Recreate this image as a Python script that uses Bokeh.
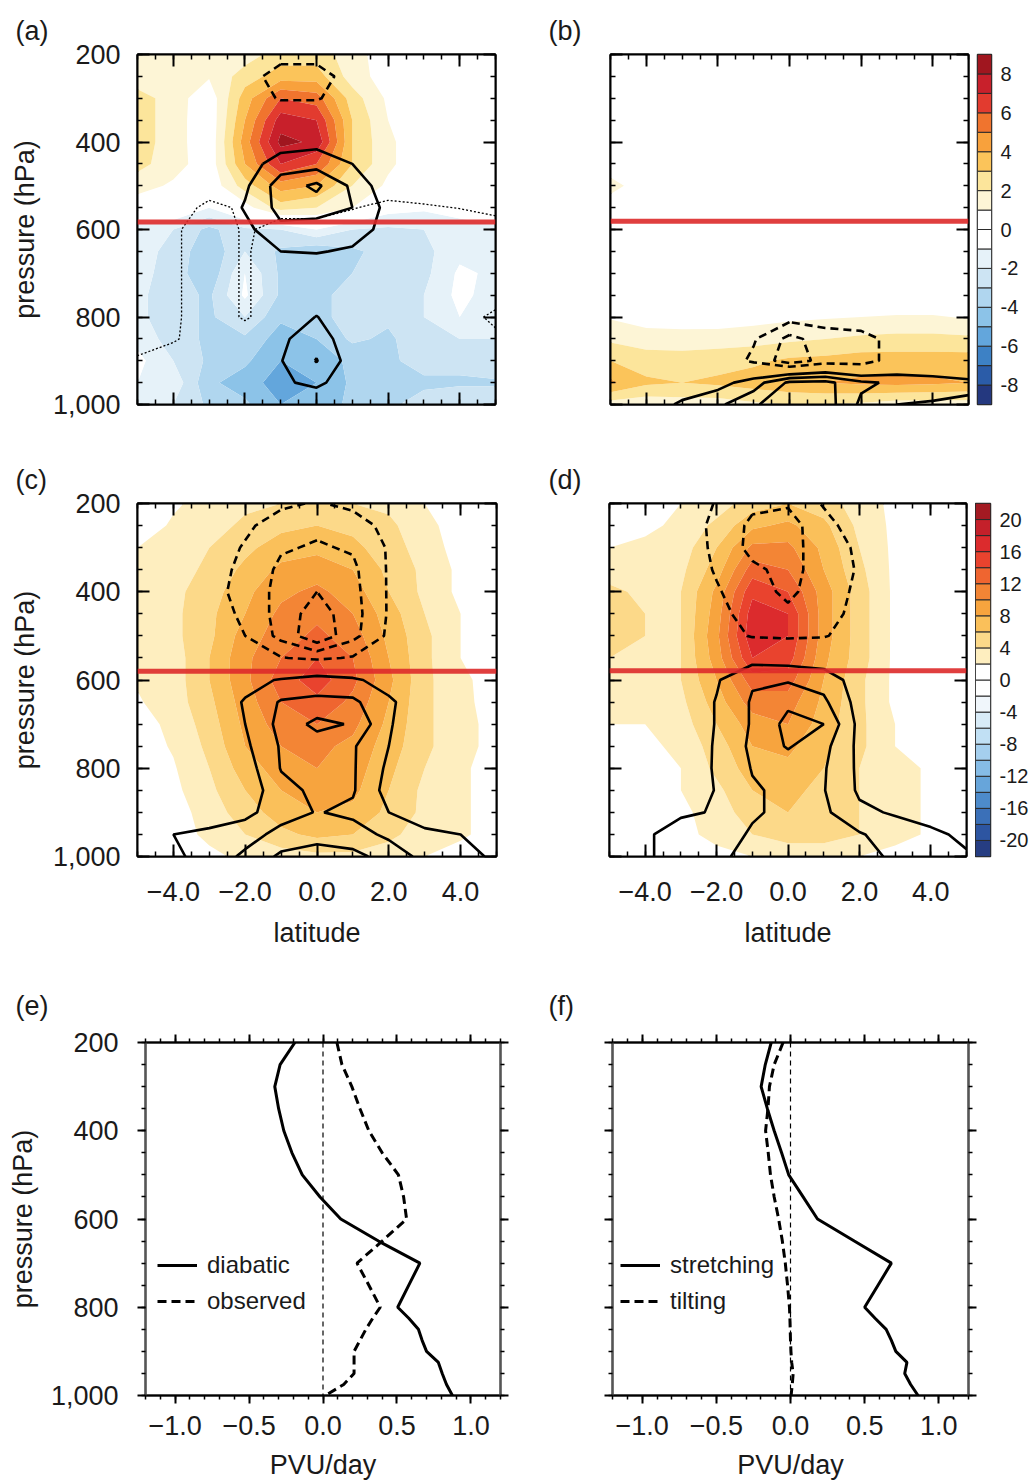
import numpy as np
from bokeh.plotting import figure
from bokeh.layouts import column, row
from bokeh.models import (Range1d, LinearAxis, SingleIntervalTicker, FixedTicker,
                          NumeralTickFormatter, CustomJSTickFormatter, Span,
                          Legend, LegendItem)
from bokeh.embed import file_html
from bokeh.resources import INLINE

FONT = "Liberation Sans"
TXT = "#1a1a1a"

# ---------------- data ----------------
latitude = [-5, -4, -3, -2, -1, 0, 1, 2, 3, 4, 5]
pressure = [200, 250, 300, 350, 400, 450, 500, 550, 600, 650, 700, 750, 800, 850, 900, 950, 1000]

# panel (a): shaded field
fill_a = [
    [1.2, 1.2, 1.2, 1.5, 2.5, 2.5, 1.5, 0.3, 0, 0, 0],
    [1.3, 1.2, 1.1, 2.5, 3.5, 3.5, 1.5, 0.5, 0, 0, 0],
    [2.5, 1.5, 0.3, 3.5, 6.0, 5.5, 2.5, 0.8, 0, 0, 0],
    [2.5, 1.5, 0.2, 4.0, 7.5, 7.0, 3.0, 1.0, 0.2, 0, 0],
    [2.5, 1.5, 0.2, 4.5, 8.3, 7.8, 3.0, 1.2, 0.3, 0, 0],
    [2.3, 1.5, 0.3, 4.0, 7.0, 6.0, 3.0, 1.2, 0.3, 0, 0],
    [1.5, 0.8, 0.2, 2.5, 4.5, 4.0, 2.0, 0.8, 0.1, 0, 0],
    [0.2, 0.3, -1.0, 0.5, 2.5, 2.0, 1.0, -0.5, -0.8, -0.5, -0.3],
    [-1.5, -2.0, -3.3, -2.2, -2.0, -1.0, -2.0, -2.2, -2.0, -1.5, -1.2],
    [-1.6, -2.3, -3.8, -2.0, -3.2, -3.8, -3.2, -2.6, -2.3, -1.3, -1.2],
    [-1.6, -2.5, -3.8, -1.0, -3.2, -4.0, -3.0, -2.6, -2.3, -0.8, -1.2],
    [-1.8, -2.5, -3.2, -0.8, -3.2, -3.3, -2.6, -2.6, -2.0, -0.7, -1.5],
    [-1.8, -2.5, -3.2, -2.0, -3.8, -3.3, -2.6, -2.8, -2.0, -1.0, -1.8],
    [-1.3, -2.5, -3.2, -3.2, -4.5, -4.0, -2.8, -3.2, -2.3, -2.0, -2.0],
    [-0.7, -2.0, -3.2, -3.8, -5.0, -4.5, -3.8, -3.2, -2.6, -2.6, -2.0],
    [-1.0, -1.3, -3.8, -4.5, -5.5, -5.0, -3.8, -3.2, -3.2, -3.2, -3.2],
    [-1.3, -2.0, -3.2, -3.8, -5.0, -4.5, -3.8, -3.2, -2.6, -2.0, -2.0],
]
# panel (a): contoured field
cont_a = [
    [0, 0, 0, -0.5, -0.6, -0.6, -0.5, 0, 0, 0, 0],
    [0, 0, 0, -0.5, -1.5, -1.5, -0.5, 0, 0, 0, 0],
    [0, 0, 0, -0.4, -1.1, -1.1, -0.4, 0, 0, 0, 0],
    [0, 0, 0, 0, 0, 0, 0, 0, 0, 0, 0],
    [0, 0, 0, 0, 0.5, 0.7, 0.3, 0, 0, 0, 0],
    [0, 0, 0, 0.5, 1.5, 1.6, 1.0, 0.2, 0, 0, 0],
    [0, 0, 0, 0.8, 2.5, 3.2, 1.8, 0.3, 0, 0, 0],
    [0, 0, 0, 1.1, 2.3, 2.5, 2.0, 0.7, 0, 0, 0],
    [0, 0, 0, 0.7, 1.8, 1.5, 1.7, 0.5, 0, 0, 0],
    [0, 0, 0, 0.2, 1.0, 1.1, 0.8, 0.1, 0, 0, 0],
    [0, 0, 0, 0, 0, 0, 0, 0, 0, 0, 0],
    [0, 0, 0, 0, 0, 0, 0, 0, 0, 0, 0],
    [0, 0, 0, 0, 0, 1.05, 0, 0, 0, 0, 0],
    [0, 0, 0, 0, 0.8, 1.6, 0.3, 0, 0, 0, 0],
    [0, 0, 0, 0, 0.95, 2.05, 0.5, 0, 0, 0, 0],
    [0, 0, 0, 0, 0.8, 1.3, 0.2, 0, 0, 0, 0],
    [0, 0, 0, 0, 0, 0, 0, 0, 0, 0, 0],
]
# panel (a): dotted zero-line field
zero_a = [
    [1, 1, 1, 1, 1, 1, 1, 1, 1, 1, 1],
    [1, 1, 1, 1, 1, 1, 1, 1, 1, 1, 1],
    [1, 1, 1, 1, 1, 1, 1, 1, 1, 1, 1],
    [1, 1, 1, 1, 1, 1, 1, 1, 1, 1, 1],
    [1, 1, 1, 1, 1, 1, 1, 1, 1, 1, 1],
    [1, 1, 1, 1, 1, 1, 1, 1, 1, 1, 1],
    [1, 1, 1, 1, 1, 1, 1, 1, 1, 1, 1],
    [1, 1, -0.5, 0.3, 0.5, 0.5, 0.1, -0.5, -0.2, 0.05, 0.3],
    [1, 0.3, -1, 0.2, -0.5, -0.5, -1, -1, -1, -1, -0.5],
    [1, 0.3, -1, 0.2, -1, -1, -1, -1, -1, -1, -1],
    [1, 0.3, -1, 0.2, -1, -1, -1, -1, -1, -1, -1],
    [1, 0.3, -1, 0.2, -1, -1, -1, -1, -1, -1, -1],
    [1, 0.3, -1, 0.2, -1, -1, -1, -1, -1, -1, 0.5],
    [1, 0.2, -1, -1, -1, -1, -1, -1, -1, -1, -0.5],
    [-0.3, -1, -1, -1, -1, -1, -1, -1, -1, -1, -1],
    [-1, -1, -1, -1, -1, -1, -1, -1, -1, -1, -1],
    [-1, -1, -1, -1, -1, -1, -1, -1, -1, -1, -1],
]
# panel (b)
fill_b = [
    [0] * 11, [0] * 11, [0] * 11, [0] * 11, [0] * 11, [0] * 11,
    [1.6, 0, 0, 0, 0, 0, 0, 0, 0, 0, 0],
    [0] * 11, [0] * 11, [0] * 11, [0] * 11, [0] * 11,
    [0.9, 0.5, 0.5, 0.4, 0.6, 0.8, 0.9, 1.0, 1.1, 1.1, 0.9],
    [1.8, 1.5, 1.4, 1.5, 1.6, 1.8, 2.0, 2.2, 2.3, 2.3, 2.2],
    [3.0, 2.5, 2.5, 2.6, 2.8, 3.2, 3.3, 3.5, 3.5, 3.5, 3.5],
    [4.2, 3.2, 3.0, 3.2, 3.5, 3.8, 4.0, 4.2, 4.3, 4.2, 4.0],
    [1.5, 1.3, 1.5, 1.5, 1.8, 2.0, 2.0, 1.8, 1.5, 1.5, 1.5],
]
cont_b = [
    [0] * 11, [0] * 11, [0] * 11, [0] * 11, [0] * 11, [0] * 11,
    [0] * 11, [0] * 11, [0] * 11, [0] * 11, [0] * 11, [0] * 11,
    [0, 0, 0, 0, -0.3, -0.6, -0.5, -0.3, -0.1, 0, 0],
    [0, 0, 0, -0.2, -0.9, -2.3, -1.5, -1.4, -0.6, 0, 0],
    [-0.1, -0.1, -0.1, -0.3, -1.2, -2.6, -1.6, -1.6, -0.4, -0.2, -0.1],
    [-0.5, -0.3, 0.2, 0.6, 1.5, 3.2, 3.3, 2.2, 1.8, 1.5, 1.2],
    [0, 0.3, 1.2, 1.8, 2.8, 4.0, 3.5, 1.8, 2.0, 2.1, 2.6],
]
# panel (c)
fill_c = [
    [1.0, 1.8, 2.5, 3.5, 4.0, 4.5, 4.0, 3.5, 2.0, 1.0, 0.5],
    [1.2, 2.2, 3.0, 4.5, 5.5, 6.0, 5.5, 4.5, 2.5, 1.2, 0.5],
    [2.0, 2.5, 4.0, 5.5, 7.0, 7.5, 6.5, 5.0, 3.0, 1.2, 0.5],
    [2.8, 3.0, 4.5, 6.5, 8.5, 9.0, 8.0, 5.5, 3.5, 1.5, 0.8],
    [3.2, 3.5, 5.0, 7.5, 9.5, 10.5, 9.0, 6.0, 3.5, 1.5, 0.8],
    [3.0, 3.5, 5.5, 8.0, 10.5, 11.5, 10.0, 7.0, 4.0, 2.0, 0.8],
    [2.5, 3.5, 5.5, 9.0, 11.0, 12.5, 11.0, 7.5, 4.5, 2.0, 0.8],
    [2.2, 3.0, 6.0, 9.5, 12.0, 14.0, 12.0, 8.0, 4.5, 2.0, 1.0],
    [2.2, 3.0, 6.0, 9.5, 13.0, 15.0, 12.5, 8.5, 4.5, 2.5, 1.0],
    [1.8, 3.0, 5.5, 9.0, 12.0, 13.5, 11.5, 8.0, 4.5, 2.5, 1.2],
    [1.2, 2.5, 5.0, 8.5, 11.0, 12.0, 10.5, 7.5, 4.5, 2.5, 1.5],
    [1.0, 2.2, 4.5, 8.0, 10.0, 10.5, 9.5, 7.0, 4.5, 2.5, 1.5],
    [0.6, 1.8, 4.0, 7.0, 9.0, 10.0, 9.0, 6.5, 4.0, 2.2, 1.5],
    [0.5, 1.5, 3.5, 6.0, 8.0, 9.0, 8.5, 6.0, 3.5, 2.2, 1.5],
    [0.3, 1.0, 3.0, 5.0, 7.0, 8.0, 7.5, 5.5, 3.5, 2.2, 1.5],
    [0.3, 1.0, 2.5, 4.0, 5.5, 6.5, 6.0, 4.5, 3.0, 2.2, 1.5],
    [0.3, 0.6, 1.5, 2.5, 3.0, 3.5, 3.5, 3.0, 2.0, 1.5, 1.2],
]
cont_c = [
    [0, 0, 0, -0.3, -0.8, -1.1, -0.7, -0.2, 0, 0, 0],
    [0, 0, -0.2, -0.8, -1.5, -1.8, -1.6, -0.6, 0, 0, 0],
    [0, 0, -0.4, -1.1, -1.9, -2.1, -1.9, -0.9, 0, 0, 0],
    [0, 0, -0.5, -1.3, -2.2, -2.5, -2.2, -0.9, 0, 0, 0],
    [0, 0, -0.6, -1.4, -2.3, -3.0, -2.3, -0.9, 0, 0, 0],
    [0, 0, -0.5, -1.2, -2.4, -3.5, -2.4, -0.9, 0, 0, 0],
    [0, 0, -0.3, -1.0, -2.3, -3.8, -2.3, -0.8, 0, 0, 0],
    [0, 0, 0, -0.3, -0.95, -1.2, -0.9, -0.2, 0, 0, 0],
    [0, 0, 0, 0.6, 1.1, 1.5, 1.2, 0.5, 0, 0, 0],
    [0, 0, 0.2, 1.1, 2.1, 2.2, 2.2, 1.2, 0.2, 0, 0],
    [0, 0, 0.2, 1.0, 2.3, 3.3, 2.9, 1.1, 0.2, 0, 0],
    [0, 0, 0, 0.8, 2.1, 2.4, 2.1, 1.0, 0, 0, 0],
    [0, 0, 0, 0.5, 2.05, 2.3, 2.1, 0.8, 0, 0, 0],
    [0, 0, 0, 0.3, 1.7, 2.2, 2.1, 0.6, 0, 0, 0],
    [0, 0.3, 0.5, 0.7, 1.6, 2.05, 1.8, 1.0, 0.5, 0.4, 0.3],
    [0.4, 1.0, 1.2, 1.6, 2.3, 2.6, 2.4, 1.8, 1.2, 1.0, 0.8],
    [0.5, 0.8, 1.4, 2.2, 3.2, 3.5, 3.3, 2.6, 1.7, 1.2, 0.9],
]
# panel (d)
fill_d = [
    [0.5, 1.0, 2.0, 3.0, 5.0, 6.0, 5.0, 3.0, 1.5, 0.5, 0.3],
    [1.0, 1.5, 2.5, 4.5, 7.5, 8.5, 6.5, 3.5, 1.5, 0.5, 0.3],
    [2.0, 2.5, 3.0, 6.0, 10.5, 10.5, 7.5, 4.0, 1.5, 0.5, 0.3],
    [3.0, 3.0, 3.5, 7.0, 13.0, 12.0, 8.0, 4.5, 1.5, 0.5, 0.3],
    [4.5, 3.5, 4.0, 8.5, 15.5, 14.0, 9.0, 5.0, 1.5, 0.5, 0.3],
    [4.5, 4.0, 4.0, 9.0, 17.0, 16.0, 9.0, 5.0, 1.5, 0.5, 0.3],
    [4.5, 4.0, 4.0, 9.5, 17.5, 16.0, 9.0, 5.0, 1.5, 0.5, 0.3],
    [4.0, 3.5, 4.0, 9.0, 16.0, 15.0, 8.5, 5.0, 1.5, 0.5, 0.3],
    [3.5, 3.0, 4.0, 8.0, 13.0, 13.0, 8.0, 4.5, 1.5, 0.5, 0.3],
    [3.0, 2.5, 3.5, 7.0, 11.0, 11.0, 7.5, 4.5, 1.5, 0.5, 0.3],
    [2.0, 2.0, 3.0, 6.0, 9.0, 10.0, 7.0, 4.5, 2.0, 0.5, 0.3],
    [1.0, 1.5, 2.5, 5.0, 8.0, 8.5, 6.5, 4.5, 2.0, 1.0, 0.5],
    [0.5, 1.0, 2.0, 4.5, 7.0, 7.5, 6.0, 4.0, 2.5, 1.8, 0.8],
    [0.5, 1.0, 2.0, 3.5, 6.0, 6.5, 5.5, 4.0, 2.5, 1.8, 0.8],
    [0.5, 1.0, 1.5, 3.0, 5.0, 6.0, 5.5, 4.0, 2.5, 1.8, 0.8],
    [0.5, 0.8, 1.5, 2.5, 4.0, 5.0, 5.0, 4.0, 2.5, 1.8, 0.8],
    [0.3, 0.5, 1.0, 1.5, 2.0, 2.5, 2.5, 2.0, 1.5, 1.0, 0.5],
]
cont_d = [
    [0, 0, 0, -1.1, -1.8, -1.9, -0.9, 0, 0, 0, 0],
    [0, 0, -0.3, -1.3, -2.2, -2.4, -1.4, -0.4, 0, 0, 0],
    [0, 0, -0.4, -1.2, -2.3, -2.3, -1.6, -0.8, 0, 0, 0],
    [0, 0, -0.3, -1.1, -1.8, -2.3, -1.6, -0.9, 0, 0, 0],
    [0, 0, -0.1, -0.9, -1.6, -2.2, -1.5, -0.8, 0, 0, 0],
    [0, 0, 0, -0.7, -1.4, -1.8, -1.5, -0.6, 0, 0, 0],
    [0, 0, 0, -0.4, -1.1, -1.2, -1.1, -0.4, 0, 0, 0],
    [0, 0, 0, 0.2, 0.6, 0.5, 0.4, 0.1, 0, 0, 0],
    [0, 0, 0.2, 0.9, 1.9, 1.9, 1.6, 0.5, 0, 0, 0],
    [0, 0, 0.3, 1.05, 2.1, 2.8, 2.2, 0.6, 0, 0, 0],
    [0, 0, 0.3, 1.05, 2.1, 3.3, 3.0, 0.7, 0, 0, 0],
    [0, 0, 0.3, 1.1, 2.2, 3.1, 2.3, 0.75, 0, 0, 0],
    [0, 0, 0.4, 1.1, 2.05, 2.4, 2.1, 0.8, 0, 0, 0],
    [0, 0, 0.4, 1.05, 1.9, 2.2, 2.05, 0.85, 0, 0, 0],
    [0, 0.6, 0.9, 1.05, 1.9, 2.2, 2.2, 1.2, 0.9, 0.8, 0.6],
    [0.5, 0.9, 1.3, 1.6, 2.1, 2.6, 2.5, 2.1, 1.5, 1.1, 0.9],
    [0.6, 0.9, 1.3, 1.8, 2.3, 2.5, 2.6, 2.2, 1.9, 1.3, 1.05],
]
melting_level = [583, 581, 580, 579]   # hPa, panels a-d

# colour scales
levels_ab = [-100] + list(range(-8, 9)) + [100]
bar_ab = [-9] + list(range(-8, 9)) + [9]
ticks_ab = [-8, -6, -4, -2, 0, 2, 4, 6, 8]
palette_ab = ["#24387f", "#2b5ca8", "#3d81c5", "#63a6dc", "#8cc3e8", "#b0d6ef",
              "#cde4f3", "#e6f2f9", "#ffffff", "#ffffff", "#fdf5d6", "#fce59b",
              "#fbc45a", "#f8a13c", "#f0742e", "#e23b2f", "#c8202b", "#a0161f"]
levels_cd = [-100] + list(range(-20, 21, 2)) + [100]
bar_cd = [-22] + list(range(-20, 21, 2)) + [22]
ticks_cd = [-20, -16, -12, -8, -4, 0, 4, 8, 12, 16, 20]
palette_cd = ["#263d82", "#2d55a1", "#3b70b8", "#4d8bcb", "#67a5da", "#86bce6",
              "#a5cfee", "#c1e0f4", "#d8ebf7", "#f0f6fb", "#ffffff", "#ffffff",
              "#feeebf", "#fcd989", "#fac05a", "#f7a43e", "#f38535", "#ef6530",
              "#e9432e", "#dc2b2d", "#c4202a", "#a31a22"]

# panels (e), (f): profiles
pressure_prof = [200, 250, 300, 350, 400, 450, 500, 550, 600, 650, 700, 750, 800,
                 825, 850, 875, 900, 925, 950, 975, 1000]
diabatic = [-0.19, -0.29, -0.326, -0.30, -0.265, -0.21, -0.14, -0.02, 0.12, 0.375,
            0.655, 0.58, 0.505, 0.58, 0.645, 0.67, 0.70, 0.78, 0.806, 0.835, 0.875]
observed = [0.094, 0.128, 0.195, 0.25, 0.31, 0.40, 0.51, 0.545, 0.565, 0.40, 0.23,
            0.31, 0.387, 0.336, 0.29, 0.25, 0.21, 0.21, 0.21, 0.14, 0.016]
stretching = [-0.13, -0.17, -0.198, -0.156, -0.11, -0.06, -0.012, 0.085, 0.182, 0.43,
              0.68, 0.59, 0.50, 0.57, 0.645, 0.68, 0.71, 0.785, 0.77, 0.81, 0.86]
tilting = [-0.05, -0.11, -0.142, -0.152, -0.168, -0.15, -0.135, -0.11, -0.08, -0.055,
           -0.035, -0.02, -0.007, -0.004, -0.002, 0.0, 0.003, 0.008, 0.018, 0.012, 0.004]

MINUS_FMT = 'return (tick < 0 ? "\\u2212" : "") + Math.abs(tick).toFixed(1);'
EMPTY_FMT = 'return "";'
PLAIN_FMT = 'return String(tick);'


def style_axis(ax, inward, major_len, minor_len):
    ax.axis_line_width = 2
    ax.axis_line_color = "black"
    ax.major_tick_line_width = 2
    ax.major_tick_line_color = "black"
    ax.minor_tick_line_width = 1.5
    ax.minor_tick_line_color = "black"
    if inward:
        ax.major_tick_in, ax.major_tick_out = major_len, 0
        ax.minor_tick_in, ax.minor_tick_out = minor_len, 0
    else:
        ax.major_tick_in, ax.major_tick_out = 0, major_len
        ax.minor_tick_in, ax.minor_tick_out = 0, minor_len
    ax.major_label_text_font = FONT
    ax.major_label_text_font_size = "27px"
    ax.major_label_text_color = TXT
    ax.axis_label_text_font = FONT
    ax.axis_label_text_font_size = "27px"
    ax.axis_label_text_font_style = "normal"
    ax.axis_label_text_color = TXT


def blank(ax):
    ax.formatter = CustomJSTickFormatter(code=EMPTY_FMT)
    ax.major_label_text_font_size = "1px"
    ax.major_label_standoff = 0


def base_fig(W, H, fl, ft, fw, fh, xr, yr, tag=None, lab_x=0, title_standoff=4):
    p = figure(width=W, height=H, x_range=xr, y_range=yr,
               min_border_left=fl, min_border_right=W - fl - fw,
               min_border_top=ft, min_border_bottom=H - ft - fh,
               x_axis_location=None, y_axis_location=None,
               output_backend="svg", toolbar_location=None)
    p.xgrid.visible = False
    p.ygrid.visible = False
    p.outline_line_color = "black"
    p.outline_line_width = 2
    p.background_fill_color = "white"
    p.border_fill_color = "white"
    if tag is not None:
        p.title.text = tag
        p.title.align = "left"
        p.title.offset = lab_x - fl
        p.title.text_font = FONT
        p.title.text_font_size = "27px"
        p.title.text_font_style = "normal"
        p.title.text_color = TXT
        p.title.standoff = title_standoff
    return p


def map_panel(tag, W, H, fl, ft, fw, fh, fill, cont, zero, levels, palette,
              melt, xlab, ylab, lab_x):
    p = base_fig(W, H, fl, ft, fw, fh, Range1d(-5, 5), Range1d(1000, 200), tag, lab_x, 18)
    p.contour(latitude, pressure, np.array(fill, dtype=float), levels,
              fill_color=palette, line_color=None)
    p.add_layout(Span(location=melt, dimension="width", line_color="#dd2a2a",
                      line_width=5, line_alpha=0.9))
    Z = np.array(cont, dtype=float)
    p.contour(latitude, pressure, Z, [1, 2, 3], line_color="black", line_width=2.6)
    p.contour(latitude, pressure, Z, [-3, -2, -1], line_color="black", line_width=2.6,
              line_dash="8 5")
    if zero is not None:
        p.contour(latitude, pressure, np.array(zero, dtype=float), [0],
                  line_color="black", line_width=1.3, line_dash="2 2")

    for loc in ("below", "above"):
        ax = LinearAxis(ticker=SingleIntervalTicker(interval=2, num_minor_ticks=4))
        style_axis(ax, True, 12, 5)
        if loc == "below" and xlab:
            ax.formatter = CustomJSTickFormatter(code=MINUS_FMT)
            ax.major_label_standoff = 25
            ax.axis_label = "latitude"
            ax.axis_label_standoff = 14
        else:
            blank(ax)
        p.add_layout(ax, loc)
    for loc in ("left", "right"):
        ax = LinearAxis(ticker=SingleIntervalTicker(interval=200, num_minor_ticks=4))
        style_axis(ax, True, 12, 5)
        if loc == "left" and ylab:
            ax.formatter = NumeralTickFormatter(format="0,0")
            ax.major_label_standoff = 17
            ax.axis_label = "pressure (hPa)"
            ax.axis_label_standoff = 10
        else:
            blank(ax)
        p.add_layout(ax, loc)
    return p


def colorbar_fig(W, H, bl, bw, top, bh, bounds, palette, ticks):
    p = base_fig(W, H, bl, top, bw, bh, Range1d(0, 1), Range1d(bounds[0], bounds[-1]))
    p.quad(left=0, right=1, bottom=bounds[:-1], top=bounds[1:], fill_color=palette,
           line_color="#2a2a2a", line_width=1)
    p.outline_line_color = "#2a2a2a"
    p.outline_line_width = 1.5
    ax = LinearAxis(ticker=FixedTicker(ticks=ticks),
                    formatter=CustomJSTickFormatter(code=PLAIN_FMT))
    ax.major_tick_line_color = None
    ax.minor_tick_line_color = None
    ax.axis_line_color = None
    ax.major_label_standoff = 3
    ax.major_label_text_font = FONT
    ax.major_label_text_font_size = "20px"
    ax.major_label_text_color = TXT
    p.add_layout(ax, "right")
    return p


def profile_panel(tag, W, H, fl, ft, fw, fh, s1, s2, names, ylab, lab_x, leg_x):
    p = base_fig(W, H, fl, ft, fw, fh, Range1d(-1.2, 1.2), Range1d(1000, 200),
                 tag, lab_x, 28)
    p.outline_line_color = "#333333"
    p.add_layout(Span(location=0, dimension="height", line_color="black",
                      line_width=1.2, line_dash="5 4"))
    r1 = p.line(x=s1, y=pressure_prof, line_color="black", line_width=3)
    r2 = p.line(x=s2, y=pressure_prof, line_color="black", line_width=3, line_dash="9 5")
    for loc in ("below", "above"):
        ax = LinearAxis(ticker=SingleIntervalTicker(interval=0.5, num_minor_ticks=5))
        style_axis(ax, False, 8, 4)
        if loc == "below":
            ax.formatter = CustomJSTickFormatter(code=MINUS_FMT)
            ax.major_label_standoff = 12
            ax.axis_label = "PVU/day"
            ax.axis_label_standoff = 12
        else:
            blank(ax)
        p.add_layout(ax, loc)
    for loc in ("left", "right"):
        ax = LinearAxis(ticker=SingleIntervalTicker(interval=200, num_minor_ticks=4))
        style_axis(ax, False, 8, 4)
        ax.axis_line_color = "#555555"
        if loc == "left" and ylab:
            ax.formatter = NumeralTickFormatter(format="0,0")
            ax.major_label_standoff = 19
            ax.axis_label = "pressure (hPa)"
            ax.axis_label_standoff = 10
        else:
            blank(ax)
        p.add_layout(ax, loc)
    legend = Legend(items=[LegendItem(label=names[0], renderers=[r1]),
                           LegendItem(label=names[1], renderers=[r2])],
                    location=(leg_x, 80), padding=0, margin=0, spacing=8,
                    background_fill_alpha=0, border_line_color=None,
                    label_text_font=FONT, label_text_font_size="24px",
                    label_text_color=TXT, glyph_width=40, glyph_height=24,
                    label_height=24, label_standoff=10)
    p.add_layout(legend)
    return p


# row 1: 0..447, row 2: 447..970, row 3: 970..1482
fa = map_panel("(a)", 515, 447, 137, 52, 358, 356, fill_a, cont_a, zero_a, levels_ab,
               palette_ab, melting_level[0], False, True, 15)
fb = map_panel("(b)", 460, 447, 95, 53, 358, 356, fill_b, cont_b, None, levels_ab,
               palette_ab, melting_level[1], False, False, 33)
cb1 = colorbar_fig(56, 447, 2, 14, 54, 350, bar_ab, palette_ab, ticks_ab)

fc = map_panel("(c)", 515, 523, 137, 55, 359, 355, fill_c, cont_c, None, levels_cd,
               palette_cd, melting_level[2], True, True, 15)
fd = map_panel("(d)", 460, 523, 94, 55, 357, 356, fill_d, cont_d, None, levels_cd,
               palette_cd, melting_level[3], True, False, 33)
cb2 = colorbar_fig(56, 523, 0, 15, 56, 353, bar_cd, palette_cd, ticks_cd)

fe = profile_panel("(e)", 515, 512, 145, 72, 355, 355, diabatic, observed,
                   ("diabatic", "observed"), True, 15, 12)
ff = profile_panel("(f)", 516, 512, 97, 72, 356, 355, stretching, tilting,
                   ("stretching", "tilting"), False, 33, 8)

layout = column(row(fa, fb, cb1), row(fc, fd, cb2), row(fe, ff))

with open("out.html", "w", encoding="utf-8") as f:
    f.write(file_html(layout, INLINE))
